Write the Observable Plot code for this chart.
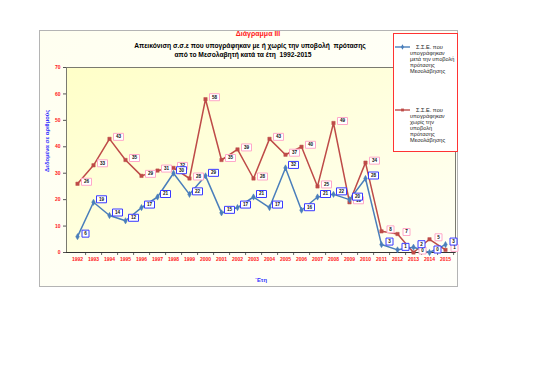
<!DOCTYPE html>
<html><head><meta charset="utf-8">
<script src="https://cdn.jsdelivr.net/npm/d3@7"></script>
<script src="https://cdn.jsdelivr.net/npm/@observablehq/plot@0.6"></script>
<style>
body{margin:0;background:#fff;font-family:"Liberation Sans",Arial,sans-serif;}
#wrap{position:relative;width:537px;height:380px;overflow:hidden;}
#outer{position:absolute;left:39px;top:30px;width:417px;height:255px;border:1px solid #b4b4b4;background:linear-gradient(135deg,#fffff0,#fffffa);}
#chart{position:absolute;left:0;top:0;}
.t{position:absolute;white-space:pre;font-weight:bold;text-align:center;width:500px;}
#legend{position:absolute;left:393px;top:33px;width:63px;height:117px;border:1.5px solid #ff3333;background:#fff;}
.li{position:absolute;font-size:5.6px;line-height:6.1px;color:#222;}
.li svg{position:absolute;}
</style></head>
<body>
<svg width="0" height="0" style="position:absolute"><defs>
<linearGradient id="pg" x1="0" y1="0" x2="1" y2="1">
<stop offset="0" stop-color="#ffffc8"/><stop offset="1" stop-color="#fffff6"/>
</linearGradient></defs></svg>
<div id="wrap">
  <div id="outer"></div>
  <div id="chart"></div>
  <div class="t" id="t0" style="top:30px;left:8px;color:#ff2020;font-size:7px;"></div>
  <div class="t" id="t1" style="top:42px;left:0px;color:#000;font-size:6.7px;"></div>
  <div class="t" id="t2" style="top:51px;left:-7px;color:#000;font-size:6.7px;"></div>
  <div id="legend"></div>
</div>
<script>
const years = [1992,1993,1994,1995,1996,1997,1998,1999,2000,2001,2002,2003,2004,2005,2006,2007,2008,2009,2010,2011,2012,2013,2014,2015];
const withProposal =    [6,19,14,12,17,21,30,22,29,15,17,21,17,32,16,21,22,20,28,3,1,2,0,3];
const withoutProposal = [26,33,43,35,29,31,32,28,58,35,39,28,43,37,40,25,49,19,34,8,7,0,5,1];
const yTicks = [0,10,20,30,40,50,60,70];
const chartTitle = "Διάγραμμα ΙΙΙ";
const titleLine1 = "Απεικόνιση σ.σ.ε που υπογράφηκαν με ή χωρίς την υποβολή  πρότασης";
const titleLine2 = "από το Μεσολαβητή κατά τα έτη  1992-2015";
const yTitle = "Δεδομένα σε αριθμούς";
const xTitle = "΄Ετη";
const seriesNames = [
  ["Σ.Σ.Ε. που","υπογράφηκαν","μετά την υποβολή","πρότασης","Μεσολάβησης"],
  ["Σ.Σ.Ε. που","υπογράφηκαν","χωρίς  την","υποβολή","πρότασης","Μεσολάβησης"]
];
const blue = "#4a7ebb", red = "#be4b48";

document.getElementById("t0").textContent = chartTitle;
document.getElementById("t1").textContent = titleLine1;
document.getElementById("t2").textContent = titleLine2;

const blueData = years.map((y,i)=>({year:y, v:withProposal[i]}));
const redData = years.map((y,i)=>({year:y, v:withoutProposal[i]}));

function rectSymbol(w,h){return {draw(ctx){ctx.moveTo(-w/2,-h/2);ctx.lineTo(w/2,-h/2);ctx.lineTo(w/2,h/2);ctx.lineTo(-w/2,h/2);ctx.closePath();}};}
function labelMarks(data, stroke, dx, dy){
  const one = data.filter(d=>String(d.v).length===1), two = data.filter(d=>String(d.v).length>1);
  return [
    Plot.dot(one,{x:"year",y:"v",symbol:rectSymbol(7,7),r:1,fill:"white",stroke,strokeWidth:1,dx,dy}),
    Plot.dot(two,{x:"year",y:"v",symbol:rectSymbol(10,7),r:1,fill:"white",stroke,strokeWidth:1,dx,dy}),
    Plot.text(data,{x:"year",y:"v",text:d=>String(d.v),dx,dy,fontSize:4.6,fontWeight:"bold",fill:"#111"})
  ];
}

const W=537,H=380,ML=66,MR=82,MT=67,MB=128;
const step = (W-ML-MR)/years.length;

const plot = Plot.plot({
  width:W,height:H,marginLeft:ML,marginRight:MR,marginTop:MT,marginBottom:MB,
  style:{background:"transparent",fontFamily:"Liberation Sans, Arial, sans-serif",overflow:"visible"},
  x:{type:"point",domain:years,padding:0.5},
  y:{domain:[0,70]},
  marks:[
    Plot.frame({fill:"url(#pg)",stroke:"#7a7a70",strokeWidth:1}),
    Plot.axisY({ticks:yTicks,tickSize:3,tickPadding:3,fontSize:5,fontWeight:"bold",fill:"#ff2020",stroke:"#555",label:null}),
    Plot.axisX({tickSize:0,tickPadding:5,fontSize:5,fontWeight:"bold",fill:"#ff2020",tickFormat:d=>String(d),label:null}),
    Plot.ruleX(years,{x:d=>d,y1:0,y2:0,dx:step/2,insetTop:0,insetBottom:-3,stroke:"#444",strokeWidth:0.8}),
    Plot.ruleY([0],{stroke:"#333",strokeWidth:1}),
    Plot.text([yTitle],{frameAnchor:"left",rotate:-90,dx:-19,dy:12,fontSize:5.8,fontWeight:"bold",fill:"#3333ff"}),
    Plot.text([xTitle],{frameAnchor:"bottom",dy:29,fontSize:5.8,fontWeight:"bold",fill:"#3333ff"}),
    Plot.line(redData,{x:"year",y:"v",stroke:red,strokeWidth:1.5}),
    Plot.line(blueData,{x:"year",y:"v",stroke:blue,strokeWidth:1.5}),
    Plot.dot(redData,{x:"year",y:"v",symbol:"square",r:1.9,fill:red,stroke:red,strokeWidth:0.5}),
    Plot.dot(blueData,{x:"year",y:"v",symbol:"diamond",r:1.9,fill:blue,stroke:blue,strokeWidth:0.5}),
    ...labelMarks(redData,"#ffa8c8",9,-2),
    ...labelMarks(blueData,"#3a3aff",8,-3)
  ]
});
document.getElementById("chart").appendChild(plot);

// legend
const leg = document.getElementById("legend");
function legendItem(top, color, symbol, lines){
  const d = document.createElement("div");
  d.className="li"; d.style.left="0px"; d.style.top=top+"px"; d.style.width="63px";
  const svg = d3.create("svg").attr("width",16).attr("height",6).style("left","1px").style("top","0px");
  svg.append("line").attr("x1",0).attr("x2",15).attr("y1",3).attr("y2",3).attr("stroke",color).attr("stroke-width",1.4);
  svg.append("path").attr("transform","translate(7.5,3)").attr("d",d3.symbol(symbol,8)()).attr("fill",color);
  d.appendChild(svg.node());
  const txt = document.createElement("div");
  txt.style.position="absolute"; txt.style.left="16px"; txt.style.top="0px";
  lines.forEach((l,i)=>{const s=document.createElement("div"); s.textContent=l; if(i===0) s.style.paddingLeft="6px"; txt.appendChild(s);});
  d.appendChild(txt);
  leg.appendChild(d);
}
legendItem(10, blue, d3.symbolDiamond, seriesNames[0]);
legendItem(73, red, d3.symbolSquare, seriesNames[1]);
</script>
</body></html>
